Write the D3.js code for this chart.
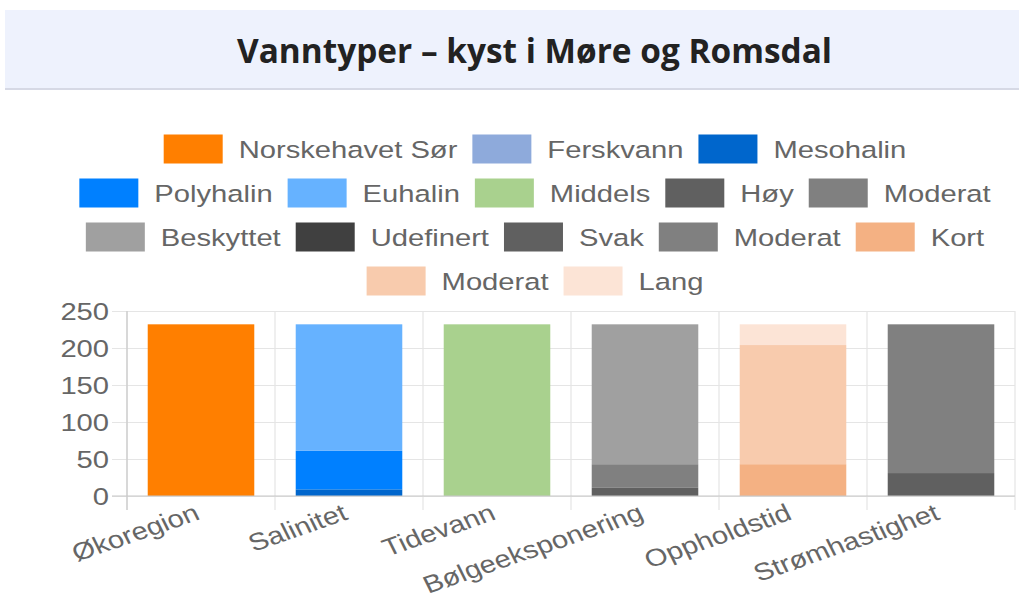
<!DOCTYPE html>
<html lang="no">
<head>
  <meta charset="utf-8">
  <title>Vanntyper – kyst i Møre og Romsdal</title>
  <script src="https://cdn.jsdelivr.net/npm/d3@7"></script>
  <style>
    body { margin: 0; background: #fff; }
    svg text { font-family: "Liberation Sans", Arial, Helvetica, sans-serif; }
    .axis text { fill: #666; font-size: 24.3px; }
    .axis path { display: none; }
    .axis line { stroke: #e5e5e5; }
  </style>
</head>
<body>
  <svg id="page" width="1019" height="597"></svg>
  <script>
    // data
    const categories = ['Økoregion', 'Salinitet', 'Tidevann', 'Bølgeeksponering', 'Oppholdstid', 'Strømhastighet']
    const seriesNames = ['Norskehavet Sør', 'Ferskvann', 'Mesohalin', 'Polyhalin', 'Euhalin', 'Middels', 'Høy', 'Moderat',
      'Beskyttet', 'Udefinert', 'Svak', 'Moderat', 'Kort', 'Moderat', 'Lang']
    const seriesColors = ['#ff7f00', '#8eaadb', '#0066cc', '#0080ff', '#66b2ff', '#a9d18e', '#606060', '#808080',
      '#a0a0a0', '#404040', '#606060', '#808080', '#f4b183', '#f8cbad', '#fce4d6']
    const seriesCategory = ['Økoregion', 'Salinitet', 'Salinitet', 'Salinitet', 'Salinitet', 'Tidevann',
      'Bølgeeksponering', 'Bølgeeksponering', 'Bølgeeksponering', 'Bølgeeksponering',
      'Strømhastighet', 'Strømhastighet', 'Oppholdstid', 'Oppholdstid', 'Oppholdstid']
    const seriesValues = [232, 0, 9, 52, 171, 232, 11, 32, 189, 0, 31, 201, 43, 161, 28]
    const yTicks = [0, 50, 100, 150, 200, 250]

    const page = d3.select('#page')

    // title band (not stretched)
    page.append('rect').attr('x', 5).attr('y', 10).attr('width', 1014).attr('height', 78).attr('fill', '#eef2fd')
    page.append('rect').attr('x', 5).attr('y', 88).attr('width', 1014).attr('height', 2).attr('fill', '#d6d9e5')
    page.append('text')
      .attr('x', 534.5).attr('y', 63)
      .attr('text-anchor', 'middle')
      .attr('textLength', 595).attr('lengthAdjust', 'spacingAndGlyphs')
      .style('font-family', '"Open Sans", sans-serif')
      .style('font-weight', 700).style('font-size', '34px').style('fill', '#222')
      .text('Vanntyper – kyst i Møre og Romsdal')

    // the chart is drawn wider than tall, like a stretched canvas
    const sx = 1.2
    const vw = 1019 / sx
    const chart = page.append('svg')
      .attr('width', 1019).attr('height', 597)
      .attr('viewBox', `0 0 ${vw} 597`)
      .attr('preserveAspectRatio', 'none')

    const plotLeft = 127 / sx, plotRight = 1015 / sx, plotTop = 311, plotBottom = 496
    const tickLen = 15 / sx

    const x = d3.scaleBand().domain(categories).range([plotLeft, plotRight]).padding(0)
    const y = d3.scaleLinear().domain([0, 250]).range([plotBottom, plotTop])

    // horizontal grid + y labels
    const yAxis = d3.axisLeft(y).tickValues(yTicks).tickSize(-(plotRight - plotLeft + tickLen)).tickPadding(3 / sx)
    chart.append('g').attr('class', 'axis')
      .attr('transform', `translate(${plotLeft - tickLen},0)`)
      .call(yAxis)
      .selectAll('text').attr('dy', '0.36em')

    // vertical grid at category edges
    const edges = categories.map(c => x(c)).concat([plotRight])
    chart.append('g').selectAll('line').data(edges).enter().append('line')
      .attr('x1', d => d).attr('x2', d => d)
      .attr('y1', plotTop).attr('y2', plotBottom + 14)
      .attr('stroke', '#e5e5e5')

    // stacked bars
    const barW = x.bandwidth() * 0.72
    const cum = {}
    const stacked = seriesValues.map((v, i) => {
      const c = seriesCategory[i]
      const y0 = cum[c] || 0
      cum[c] = y0 + v
      return { c: c, y0: y0, y1: y0 + v, color: seriesColors[i] }
    }).filter(d => d.y1 > d.y0)

    chart.append('g').selectAll('rect').data(stacked).enter().append('rect')
      .attr('x', d => x(d.c) + (x.bandwidth() - barW) / 2)
      .attr('width', barW)
      .attr('y', d => y(d.y1))
      .attr('height', d => y(d.y0) - y(d.y1))
      .attr('fill', d => d.color)

    // axis border lines
    chart.append('line').attr('x1', plotLeft).attr('x2', plotLeft).attr('y1', plotTop).attr('y2', plotBottom + 14).attr('stroke', '#c8c8c8')
    chart.append('line').attr('x1', plotLeft - tickLen).attr('x2', plotRight).attr('y1', plotBottom).attr('y2', plotBottom).attr('stroke', '#c8c8c8')

    // x labels, rotated
    const xAxis = d3.axisBottom(x).tickSize(0)
    chart.append('g').attr('class', 'axis')
      .attr('transform', `translate(0,${plotBottom})`)
      .call(xAxis)
      .selectAll('text')
      .attr('y', 0).attr('dy', '0.35em')
      .attr('transform', 'translate(-3,15) rotate(-22.5)')
      .style('text-anchor', 'end')

    // legend, wrapped into centred rows
    const boxW = 59 / sx, boxH = 29, boxGap = 16 / sx, itemGap = 15 / sx, legendMax = 920 / sx
    const legendCx = 535 / sx, rowY0 = 149, rowStep = 44
    const legend = chart.append('g')
    const items = seriesNames.map((name, i) => {
      const g = legend.append('g')
      g.append('rect').attr('width', boxW).attr('height', boxH).attr('y', -boxH / 2)
        .attr('fill', seriesColors[i])
      const t = g.append('text').attr('x', boxW + boxGap).attr('dy', '0.35em')
        .style('font-size', '24.3px').style('fill', '#666').text(name)
      return { g: g, w: boxW + boxGap + t.node().getComputedTextLength() }
    })
    const rows = [[]]
    let rowW = 0
    items.forEach(it => {
      const add = rows[rows.length - 1].length ? itemGap + it.w : it.w
      if (rowW + add > legendMax) {
        rows.push([it])
        rowW = it.w
      } else {
        rows[rows.length - 1].push(it)
        rowW += add
      }
    })
    rows.forEach((row, r) => {
      const total = d3.sum(row, d => d.w) + itemGap * (row.length - 1)
      let cx = legendCx - total / 2
      row.forEach(it => {
        it.g.attr('transform', `translate(${cx},${rowY0 + r * rowStep})`)
        cx += it.w + itemGap
      })
    })
  </script>
</body>
</html>
